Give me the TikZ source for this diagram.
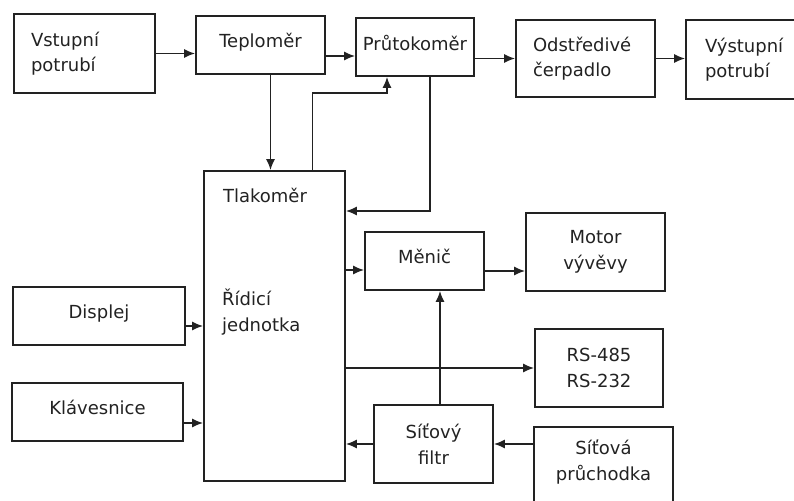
\documentclass[tikz,border=0pt]{standalone}
\usepackage{fontspec}
\setmainfont{DejaVu Sans}
\usepackage{tikz}
\usetikzlibrary{
  arrows.meta,
  calc,
  positioning
}
\definecolor{ink}{HTML}{222222}

\begin{document}
\begin{tikzpicture}[
  x=1pt, y=-1pt,
  font=\fontsize{18pt}{25.5pt}\selectfont,
  every node/.style={text=ink},
  block/.style={draw=ink, line width=1.7pt, align=center, inner sep=0pt},
  lblock/.style={block, align=left},
  arrow/.style={-{Latex[length=11pt,width=9pt]}, draw=ink, line width=1.6pt}
]
\useasboundingbox (0,0) rectangle (794,500);
\clip (0,0) rectangle (794,500);

\node[lblock, text width=107pt, inner xsep=17pt, minimum height=79pt] (vstup) at (84.5,53.5) {Vstupní\\potrubí};
\node[block, minimum width=129pt, minimum height=58pt, text depth=9pt] (tepl) at (260.5,45) {Teploměr};
\node[block, minimum width=118pt, minimum height=58pt, text depth=9pt] (prut) at (415,47) {Průtokoměr};
\node[lblock, text width=105pt, inner xsep=17pt, minimum height=77pt] (odst) at (585.5,58.5) {Odstředivé\\čerpadlo};
\node[lblock, text width=82pt, inner xsep=19pt, minimum height=79pt] (vystup) at (746,59.5) {Výstupní\\potrubí};

\node[block, minimum width=141pt, minimum height=310pt] (ridici) at (274.5,326) {};
\node (tlak) at (265,195) {Tlakoměr};
\node[anchor=west, align=left, inner sep=0pt] (jednotka) at (222,312) {Řídicí\\jednotka};

\node[block, minimum width=172pt, minimum height=58pt, text depth=9pt] (displej) at (99,316) {Displej};
\node[block, minimum width=171pt, minimum height=58pt, text depth=9pt] (klav) at (97.5,412) {Klávesnice};
\node[block, minimum width=119pt, minimum height=58pt, text depth=9pt] (menic) at (424.5,261) {Měnič};
\node[block, minimum width=139pt, minimum height=78pt] (motor) at (595.5,252) {Motor\\vývěvy};
\node[block, minimum width=128pt, minimum height=78pt] (rs) at (599,368) {RS-485\\RS-232};
\node[block, minimum width=119pt, minimum height=78pt] (filtr) at (433.5,444) {Síťový\\filtr};
\node[block, minimum width=139pt, minimum height=86pt] (pruch) at (603.5,470) {};
\node[align=center] (pruchtext) at (603.5,462) {Síťová\\průchodka};

\draw[arrow] (vstup) -- (vstup -| tepl.west);
\coordinate (tp) at ([yshift=-11pt]tepl.east);
\draw[arrow] (tp) -- (tp -| prut.west);
\draw[arrow] (prut.east |- odst) -- (odst);
\draw[arrow] (odst) -- (odst -| vystup.west);

\coordinate (td) at ([xshift=10pt]tepl.south);
\draw[arrow] (td) -- (td |- ridici.north);
\coordinate (rp) at ([xshift=38pt]ridici.north);
\coordinate (pr) at ([xshift=-28pt]prut.south);
\draw[arrow] (rp) |- ([yshift=-16pt]pr) -- (pr);
\coordinate (pd) at ([xshift=15pt]prut.south);
\coordinate (ri) at ([yshift=115pt]ridici.east);
\draw[arrow] (pd) |- (ri);

\coordinate (rm) at ([yshift=-9pt]menic.west);
\draw[arrow] (rm -| ridici.east) -- (rm);
\coordinate (mm) at ([yshift=-10pt]menic.east);
\draw[arrow] (mm) -- (mm -| motor.west);
\coordinate (fm) at ([xshift=6.5pt]filtr.north);
\draw[arrow] (fm) -- (fm |- menic.south);
\draw[arrow] (ridici.east |- rs) -- (rs);
\draw[arrow] (filtr) -- (filtr -| ridici.east);
\draw[arrow] (filtr -| pruch.west) -- (filtr);

\draw[arrow] (ridici -| displej.east) -- (ridici);
\coordinate (kr) at ([yshift=-11pt]klav.east);
\draw[arrow] (kr) -- (kr -| ridici.west);
\end{tikzpicture}
\end{document}
